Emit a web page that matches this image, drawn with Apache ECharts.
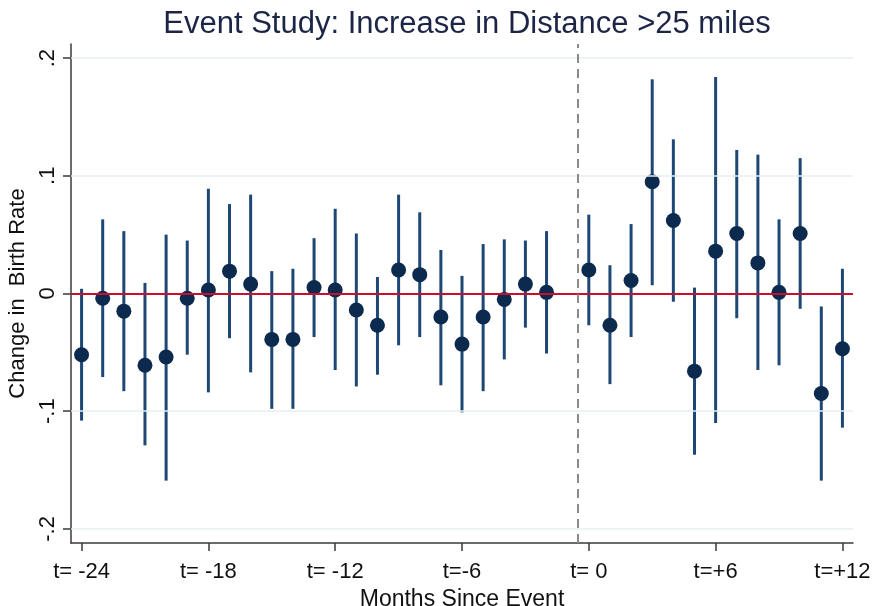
<!DOCTYPE html>
<html>
<head>
<meta charset="utf-8">
<title>Event Study</title>
<script src="https://cdn.jsdelivr.net/npm/echarts@6/dist/echarts.min.js"></script>
<style>
  html, body { margin: 0; padding: 0; background: #fff; }
  #chart { width: 873px; height: 606px; }
</style>
</head>
<body>
<div id="chart"></div>
<script>
// Months relative to the event (t = -1 is the omitted reference month)
const months = [-24, -23, -22, -21, -20, -19, -18, -17, -16, -15, -14, -13,
                -12, -11, -10, -9, -8, -7, -6, -5, -4, -3, -2,
                0, 1, 2, 3, 4, 5, 6, 7, 8, 9, 10, 11, 12];

// Point estimates
const estimates = [-0.052, -0.004, -0.015, -0.061, -0.054, -0.004, 0.003, 0.019, 0.008, -0.039, -0.039, 0.005,
                   0.003, -0.014, -0.027, 0.020, 0.016, -0.020, -0.043, -0.020, -0.005, 0.008, 0.001,
                   0.020, -0.027, 0.011, 0.095, 0.062, -0.066, 0.036, 0.051, 0.026, 0.001, 0.051, -0.085, -0.047];

// Lower and upper confidence bounds
const lower = [-0.108, -0.071, -0.083, -0.129, -0.159, -0.052, -0.084, -0.038, -0.067, -0.098, -0.098, -0.037,
               -0.065, -0.079, -0.069, -0.044, -0.037, -0.078, -0.101, -0.083, -0.056, -0.029, -0.051,
               -0.027, -0.077, -0.037, 0.007, -0.007, -0.137, -0.110, -0.021, -0.065, -0.061, -0.013, -0.159, -0.114];
const upper = [0.004, 0.063, 0.053, 0.009, 0.050, 0.045, 0.089, 0.076, 0.084, 0.019, 0.021, 0.047,
               0.072, 0.051, 0.014, 0.084, 0.069, 0.037, 0.015, 0.042, 0.046, 0.045, 0.053,
               0.067, 0.024, 0.059, 0.182, 0.131, 0.005, 0.184, 0.122, 0.118, 0.063, 0.115, -0.011, 0.021];

// Axis ticks and labels
const xTicks = [-24, -18, -12, -6, 0, 6, 12];
const xTickLabels = ['t= -24', 't= -18', 't= -12', 't=-6', 't= 0', 't=+6', 't=+12'];
const yTicks = [-0.2, -0.1, 0, 0.1, 0.2];
const yTickLabels = ['-.2', '-.1', '0', '.1', '.2'];
const eventLine = -0.5;

const FONT = '"Liberation Sans", Arial, sans-serif';
const INK = '#111';

const barData = months.map((m, i) => [m, lower[i], upper[i]]);
const pointData = months.map((m, i) => [m, estimates[i]]);

const chart = echarts.init(document.getElementById('chart'), null, { renderer: 'canvas' });

chart.setOption({
  backgroundColor: '#fff',
  animation: false,
  title: {
    text: 'Event Study: Increase in Distance >25 miles',
    left: 462,
    textAlign: 'center',
    top: 4,
    textStyle: { fontFamily: FONT, fontSize: 31, fontWeight: 'normal', color: '#1c2546' }
  },
  grid: { left: 71, right: 20, top: 44, bottom: 63, containLabel: false, outerBoundsMode: 'none' },
  xAxis: {
    type: 'value',
    min: -24.5,
    max: 12.5,
    name: 'Months Since Event',
    nameLocation: 'middle',
    nameGap: 35,
    nameTextStyle: { fontFamily: FONT, fontSize: 23, color: INK },
    axisLine: { show: true, onZero: false, lineStyle: { color: '#3a3a3a', width: 1.5 } },
    axisTick: { show: true, length: 8, customValues: xTicks, lineStyle: { color: '#3a3a3a', width: 1.5 } },
    axisLabel: {
      customValues: xTicks,
      margin: 18,
      fontFamily: FONT, fontSize: 22, color: INK,
      formatter: v => xTickLabels[xTicks.indexOf(Math.round(v))] ?? ''
    },
    splitLine: { show: false }
  },
  yAxis: {
    type: 'value',
    min: -0.212,
    max: 0.212,
    name: 'Change in  Birth Rate',
    nameLocation: 'middle',
    nameRotate: 90,
    nameGap: 31,
    nameTextStyle: { fontFamily: FONT, fontSize: 22, color: INK },
    axisLine: { show: true, onZero: false, lineStyle: { color: '#3a3a3a', width: 1.5 } },
    axisTick: { show: true, length: 8, customValues: yTicks, lineStyle: { color: '#3a3a3a', width: 1.5 } },
    axisLabel: {
      customValues: yTicks,
      rotate: 90,
      margin: 12,
      fontFamily: FONT, fontSize: 22, color: INK,
      formatter: v => {
        const k = yTicks.findIndex(t => Math.abs(t - v) < 1e-9);
        return k >= 0 ? yTickLabels[k] : '';
      }
    },
    splitLine: { show: false }
  },
  series: [
    {
      // horizontal gridlines, zero reference line and event marker
      type: 'line',
      data: [],
      silent: true,
      z: 1,
      markLine: {
        silent: true,
        symbol: 'none',
        label: { show: false },
        data: [
          ...yTicks.filter(t => t !== 0).map(t => ({ yAxis: t, lineStyle: { color: '#e4eff2', width: 1.5, type: 'solid' } })),
          { yAxis: 0, lineStyle: { color: '#c8102e', width: 2, type: 'solid' } },
          { xAxis: eventLine, lineStyle: { color: '#8a8a8a', width: 2, type: [9, 6] } }
        ]
      }
    },
    {
      // confidence intervals
      type: 'custom',
      z: 3,
      data: barData,
      renderItem: (params, api) => {
        const x = api.value(0);
        const p1 = api.coord([x, api.value(1)]);
        const p2 = api.coord([x, api.value(2)]);
        return {
          type: 'line',
          shape: { x1: p1[0], y1: p1[1], x2: p2[0], y2: p2[1] },
          style: { stroke: '#1d4775', lineWidth: 3 }
        };
      }
    },
    {
      // point estimates
      type: 'scatter',
      z: 4,
      data: pointData,
      symbol: 'circle',
      symbolSize: 15,
      itemStyle: { color: '#0b2a4e', opacity: 1 }
    }
  ]
});
</script>
</body>
</html>
